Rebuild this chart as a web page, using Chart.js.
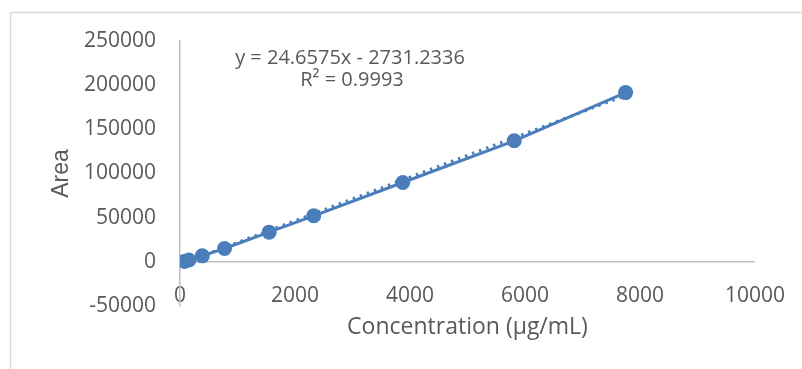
<!DOCTYPE html>
<html>
<head>
<meta charset="utf-8">
<script src="https://cdn.jsdelivr.net/npm/chart.js@4.4.0/dist/chart.umd.min.js"></script>
<style>
  html, body { margin: 0; padding: 0; background: #ffffff; }
  #wrap { width: 802px; height: 369px; }
</style>
</head>
<body>
<div id="wrap"><canvas id="calibChart" width="802" height="369"></canvas></div>
<script>
// calibration data
const concentrations = [77.5, 155, 387.5, 775, 1550, 2325, 3875, 5812.5, 7750];
const areas = [500, 2100, 6800, 15100, 33600, 52100, 89800, 137000, 191600];

// trendline as printed on the chart
const slope = 24.6575;
const intercept = -2731.2336;
const equationText = "y = 24.6575x - 2731.2336";
const r2Text = "R\u00B2 = 0.9993";

const xTicks = [0, 2000, 4000, 6000, 8000, 10000];
const yTicks = [-50000, 0, 50000, 100000, 150000, 200000, 250000];

const xTitle = "Concentration (\u00B5g/mL)";
const yTitle = "Area";

const blue = "#4a7ebb";
const textGray = "#595959";
const axisGray = "#bfbfbf";

const dataPoints = concentrations.map((c, i) => ({ x: c, y: areas[i] }));
const xFirst = concentrations[0];
const xLast = concentrations[concentrations.length - 1];
const trendPoints = [
  { x: xFirst, y: slope * xFirst + intercept },
  { x: xLast, y: slope * xLast + intercept },
];

const frameAndLabel = {
  id: "frameAndLabel",
  beforeDraw(chart) {
    const ctx = chart.ctx;
    ctx.save();
    ctx.strokeStyle = "#d9d9d9";
    ctx.lineWidth = 1.5;
    ctx.strokeRect(10.5, 12.5, 820, 400);
    ctx.restore();
  },
  afterDraw(chart) {
    const ctx = chart.ctx;
    const area = chart.chartArea;
    ctx.save();
    ctx.fillStyle = textGray;
    ctx.font = "20px 'Open Sans'";
    ctx.textAlign = "center";
    ctx.textBaseline = "middle";
    ctx.fillText(equationText, area.left + 170, area.top + 17);
    ctx.fillText(r2Text, area.left + 172, area.top + 39);
    ctx.restore();
  },
};

new Chart(document.getElementById("calibChart"), {
  type: "scatter",
  data: {
    datasets: [
      {
        label: "Area",
        data: dataPoints,
        showLine: true,
        borderColor: blue,
        backgroundColor: blue,
        borderWidth: 3,
        pointRadius: 7.5,
        pointBorderWidth: 0,
        pointBackgroundColor: blue,
      },
      {
        label: "Linear",
        data: trendPoints,
        showLine: true,
        borderColor: blue,
        borderWidth: 3,
        borderDash: [2.5, 5],
        pointRadius: 0,
      },
    ],
  },
  options: {
    responsive: false,
    animation: false,
    layout: { padding: { left: 0, top: 41, right: 47, bottom: 0 } },
    plugins: {
      legend: { display: false },
      tooltip: { enabled: false },
    },
    scales: {
      x: {
        type: "linear",
        min: 0,
        max: 10000,
        afterBuildTicks: (s) => { s.ticks = xTicks.map((v) => ({ value: v })); },
        afterFit: (s) => { s.height = 63; },
        border: { display: false },
        grid: { display: false, drawTicks: false },
        ticks: {
          color: textGray,
          font: { family: "'Open Sans'", size: 21 },
          mirror: true,
          padding: -3,
          maxRotation: 0,
          callback: (v) => String(v),
        },
        title: {
          display: true,
          text: xTitle,
          color: textGray,
          font: { family: "'Open Sans'", size: 23 },
          padding: { top: 0, bottom: 28 },
        },
      },
      y: {
        type: "linear",
        min: -50000,
        max: 250000,
        afterBuildTicks: (s) => { s.ticks = yTicks.map((v) => ({ value: v })); },
        afterFit: (s) => { s.width = 180; },
        border: { display: true, color: axisGray, width: 1.5 },
        grid: {
          drawTicks: false,
          lineWidth: 1.5,
          color: (c) => (c.tick && c.tick.value === 0 ? axisGray : "rgba(0,0,0,0)"),
        },
        ticks: {
          color: textGray,
          font: { family: "'Open Sans'", size: 21 },
          padding: 24,
          callback: (v) => String(v),
        },
        title: {
          display: true,
          text: yTitle,
          color: textGray,
          font: { family: "'Liberation Sans'", size: 23 },
          padding: { top: 48, bottom: 0 },
        },
      },
    },
  },
  plugins: [frameAndLabel],
});
</script>
</body>
</html>
